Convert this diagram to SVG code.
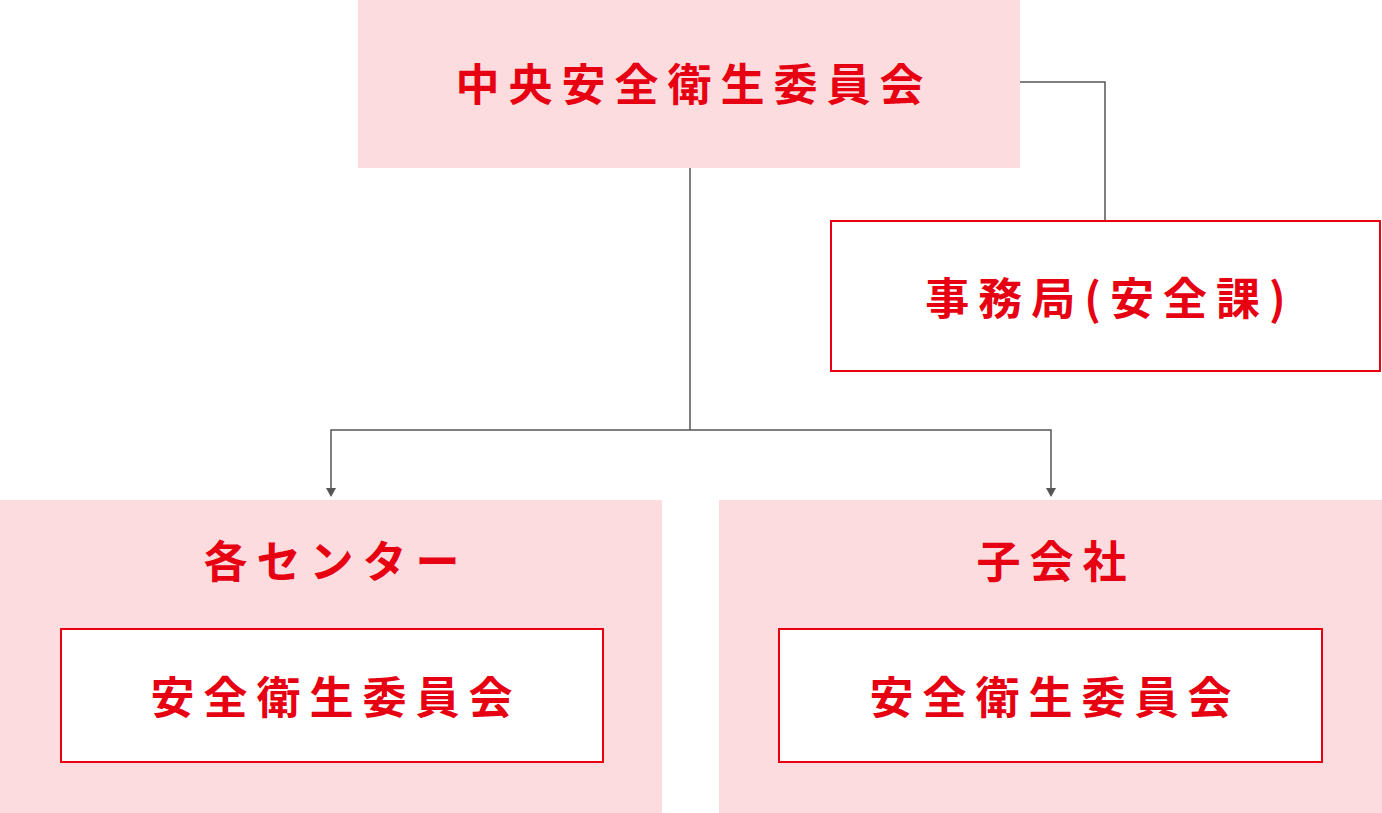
<svg xmlns="http://www.w3.org/2000/svg" width="1382" height="813" viewBox="0 0 1382 813">
<style>
.pink{fill:#fddcdf}
.box{fill:#fff;stroke:#e60012;stroke-width:2}
.t{font-family:"Noto Sans CJK JP",sans-serif;font-weight:bold;font-size:44px;fill:#e60012;text-anchor:middle;letter-spacing:9px}
.c{fill:none;stroke:#555;stroke-width:1.5}
</style>
<defs><marker id="a" markerWidth="10" markerHeight="10" refX="5" refY="8" orient="auto" markerUnits="userSpaceOnUse"><path d="M0,0 L10,0 L5,8 Z" fill="#555" transform="rotate(-90 5 5)"/></marker></defs>
<g id="connectors">
<path class="c" d="M1020,82 H1105 V220"/>
<path class="c" d="M690,168 V430"/>
<path class="c" d="M690,430 H331 V488"/>
<path class="c" d="M690,430 H1051 V488"/>
<path d="M326,488 L336,488 L331,497 Z" fill="#555"/>
<path d="M1046,488 L1056,488 L1051,497 Z" fill="#555"/>
</g>
<g id="central"><rect class="pink" x="358" y="0" width="662" height="168"/><text class="t" x="694" y="101">中央安全衛生委員会</text></g>
<g id="office"><rect class="box" x="831" y="221" width="549" height="150"/><text class="t" x="1110" y="315">事務局(安全課)</text></g>
<g id="centers"><rect class="pink" x="0" y="500" width="662" height="313"/><text class="t" x="336" y="578">各センター</text></g>
<g id="centers-committee"><rect class="box" x="61" y="629" width="542" height="133"/><text class="t" x="336" y="714">安全衛生委員会</text></g>
<g id="subsidiary"><rect class="pink" x="719" y="500" width="663" height="313"/><text class="t" x="1056" y="578">子会社</text></g>
<g id="subsidiary-committee"><rect class="box" x="779" y="629" width="543" height="133"/><text class="t" x="1055" y="714">安全衛生委員会</text></g>
</svg>
